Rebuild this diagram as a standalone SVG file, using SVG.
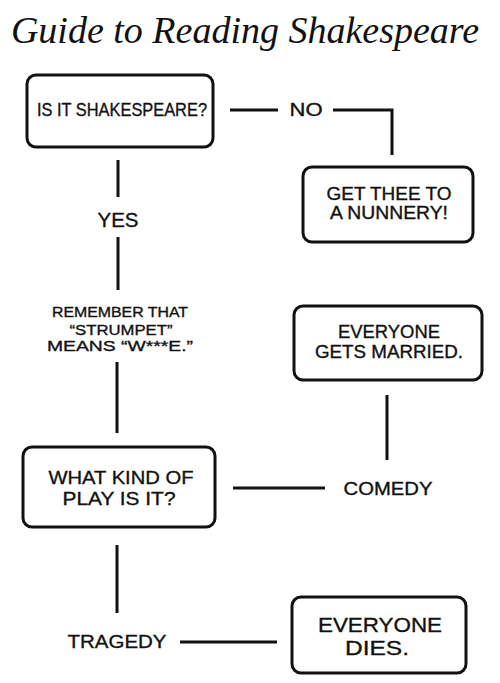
<svg xmlns="http://www.w3.org/2000/svg" width="500" height="683" viewBox="0 0 500 683">
<style>
.box{fill:#fff;stroke:#111;stroke-width:3;}
.ln{stroke:#111;stroke-width:3;fill:none;stroke-linecap:butt;}
.t{font-family:"Liberation Sans",Arial,sans-serif;fill:#111;stroke:#111;stroke-width:0.35;text-anchor:middle;}
.title{font-family:"Liberation Serif","Times New Roman",serif;font-style:italic;fill:#111;text-anchor:middle;}
</style>
<rect width="500" height="683" fill="#fff"/>
<text class="title" x="245" y="43" font-size="38">Guide to Reading Shakespeare</text>
<g id="connectors">
<line class="ln" x1="230" y1="110" x2="278" y2="110"/>
<polyline class="ln" points="333,110 392,110 392,155"/>
<line class="ln" x1="118" y1="160" x2="118" y2="197"/>
<line class="ln" x1="118" y1="237" x2="118" y2="290"/>
<line class="ln" x1="117" y1="362" x2="117" y2="433"/>
<line class="ln" x1="387" y1="395" x2="387" y2="460"/>
<line class="ln" x1="233" y1="488" x2="325" y2="488"/>
<line class="ln" x1="117" y1="545" x2="117" y2="613"/>
<line class="ln" x1="180" y1="642" x2="277" y2="642"/>
</g>
<g id="labels">
<text class="t" x="306" y="116" font-size="18" textLength="33" lengthAdjust="spacingAndGlyphs">NO</text>
<text class="t" x="118" y="227" font-size="20" textLength="41" lengthAdjust="spacingAndGlyphs">YES</text>
<text class="t" x="388" y="495" font-size="18" textLength="89" lengthAdjust="spacingAndGlyphs">COMEDY</text>
<text class="t" x="117" y="648" font-size="18" textLength="99" lengthAdjust="spacingAndGlyphs">TRAGEDY</text>
</g>
<g id="node-shakespeare">
<rect class="box" x="27" y="75" width="186" height="72" rx="9"/>
<text class="t" x="122" y="116" font-size="18" textLength="170" lengthAdjust="spacingAndGlyphs">IS IT SHAKESPEARE?</text>
</g>
<g id="node-nunnery">
<rect class="box" x="303" y="167" width="170" height="75" rx="9"/>
<text class="t" x="389" y="200" font-size="18" textLength="125" lengthAdjust="spacingAndGlyphs">GET THEE TO</text>
<text class="t" x="389" y="219" font-size="18" textLength="118" lengthAdjust="spacingAndGlyphs">A NUNNERY!</text>
</g>
<g id="node-remember">
<text class="t" x="120" y="317" font-size="15" textLength="136" lengthAdjust="spacingAndGlyphs">REMEMBER THAT</text>
<text class="t" x="121" y="335" font-size="15" textLength="103" lengthAdjust="spacingAndGlyphs">“STRUMPET”</text>
<text class="t" x="120" y="351" font-size="15" textLength="146" lengthAdjust="spacingAndGlyphs">MEANS “W***E.”</text>
</g>
<g id="node-married">
<rect class="box" x="294" y="306" width="188" height="74" rx="9"/>
<text class="t" x="389" y="338" font-size="18" textLength="102" lengthAdjust="spacingAndGlyphs">EVERYONE</text>
<text class="t" x="389" y="358" font-size="18" textLength="148" lengthAdjust="spacingAndGlyphs">GETS MARRIED.</text>
</g>
<g id="node-kind">
<rect class="box" x="23" y="447" width="192" height="80" rx="9"/>
<text class="t" x="121" y="484" font-size="19" textLength="145" lengthAdjust="spacingAndGlyphs">WHAT KIND OF</text>
<text class="t" x="119" y="505" font-size="19" textLength="113" lengthAdjust="spacingAndGlyphs">PLAY IS IT?</text>
</g>
<g id="node-dies">
<rect class="box" x="292" y="597" width="174" height="76" rx="9"/>
<text class="t" x="380" y="632" font-size="21" textLength="124" lengthAdjust="spacingAndGlyphs">EVERYONE</text>
<text class="t" x="377" y="655" font-size="21" textLength="64" lengthAdjust="spacingAndGlyphs">DIES.</text>
</g>
</svg>
